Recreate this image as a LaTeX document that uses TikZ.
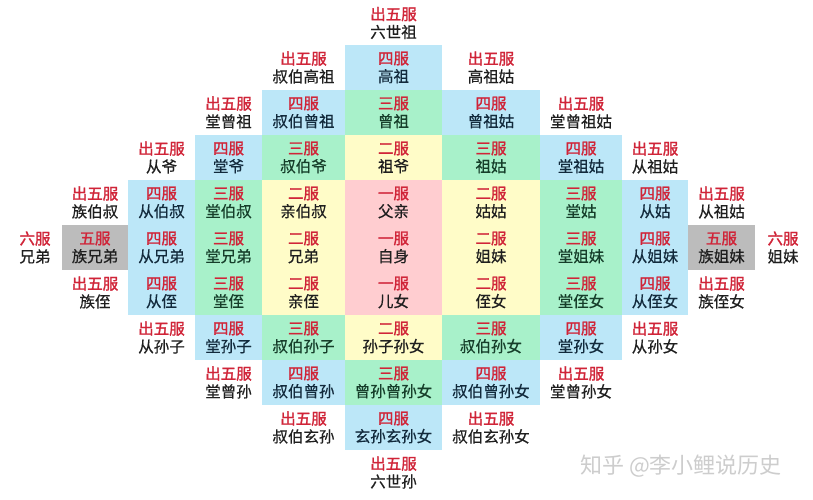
\documentclass[tikz,border=0pt]{standalone}
\usepackage{fontspec}
\newfontfamily\cjk[FakeBold=0.5]{Noto Sans CJK SC}
\newfontfamily\cjkb[FakeBold=1.6]{Noto Sans CJK SC}
\newfontfamily\cjkw{Noto Sans CJK SC}
\definecolor{cblue}{RGB}{188,231,248}
\definecolor{cgreen}{RGB}{168,241,202}
\definecolor{cyellow}{RGB}{255,252,200}
\definecolor{cpink}{RGB}{255,205,208}
\definecolor{cgray}{RGB}{188,188,188}
\definecolor{cred}{RGB}{208,36,56}
\definecolor{tgreen}{RGB}{22,62,42}
\definecolor{tblue}{RGB}{18,42,60}
\definecolor{wm}{RGB}{205,205,205}
\tikzset{
  cell/.style={minimum height=45pt, inner sep=0pt, align=center,
    font=\cjk\fontsize{15.5}{18}\selectfont, text=black!88},
  wcell/.style={cell},
  bcell/.style={cell, fill=cblue, text=tblue},
  gcell/.style={cell, fill=cgreen, text=tgreen},
  ycell/.style={cell, fill=cyellow},
  pcell/.style={cell, fill=cpink},
  kcell/.style={cell, fill=cgray},
}
\newcommand\C[7]{\node[#5, minimum width=#4pt] (#1) at (#2,#3) {{\cjkb\color{cred}#6}\\#7};}
\begin{document}
\begin{tikzpicture}[x=1pt,y=-1pt]
\useasboundingbox[fill=white] (0,0) rectangle (813,500);
% row 0
\C{r0c0}{393.5}{23}{97}{wcell}{出五服}{六世祖}
% row 1
\C{r1cm1}{303.5}{67.5}{83}{wcell}{出五服}{叔伯高祖}
\C{r1c0}{393.5}{67.5}{97}{bcell}{四服}{高祖}
\C{r1c1}{491}{67.5}{98}{wcell}{出五服}{高祖姑}
% row 2
\C{r2cm2}{228.5}{112.5}{67}{wcell}{出五服}{堂曾祖}
\C{r2cm1}{303.5}{112.5}{83}{bcell}{四服}{叔伯曾祖}
\C{r2c0}{393.5}{112.5}{97}{gcell}{三服}{曾祖}
\C{r2c1}{491}{112.5}{98}{bcell}{四服}{曾祖姑}
\C{r2c2}{581}{112.5}{82}{wcell}{出五服}{堂曾祖姑}
% row 3
\C{r3cm3}{161.5}{157.5}{67}{wcell}{出五服}{从爷}
\C{r3cm2}{228.5}{157.5}{67}{bcell}{四服}{堂爷}
\C{r3cm1}{303.5}{157.5}{83}{gcell}{三服}{叔伯爷}
\C{r3c0}{393.5}{157.5}{97}{ycell}{二服}{祖爷}
\C{r3c1}{491}{157.5}{98}{gcell}{三服}{祖姑}
\C{r3c2}{581}{157.5}{82}{bcell}{四服}{堂祖姑}
\C{r3c3}{655}{157.5}{66}{wcell}{出五服}{从祖姑}
% row 4
\C{r4cm4}{95}{202.5}{66}{wcell}{出五服}{族伯叔}
\C{r4cm3}{161.5}{202.5}{67}{bcell}{四服}{从伯叔}
\C{r4cm2}{228.5}{202.5}{67}{gcell}{三服}{堂伯叔}
\C{r4cm1}{303.5}{202.5}{83}{ycell}{二服}{亲伯叔}
\C{r4c0}{393.5}{202.5}{97}{pcell}{一服}{父亲}
\C{r4c1}{491}{202.5}{98}{ycell}{二服}{姑姑}
\C{r4c2}{581}{202.5}{82}{gcell}{三服}{堂姑}
\C{r4c3}{655}{202.5}{66}{bcell}{四服}{从姑}
\C{r4c4}{721.5}{202.5}{67}{wcell}{出五服}{从祖姑}
% row 5
\C{r5cm5}{35}{247.5}{50}{wcell}{六服}{兄弟}
\C{r5cm4}{95}{247.5}{66}{kcell}{五服}{族兄弟}
\C{r5cm3}{161.5}{247.5}{67}{bcell}{四服}{从兄弟}
\C{r5cm2}{228.5}{247.5}{67}{gcell}{三服}{堂兄弟}
\C{r5cm1}{303.5}{247.5}{83}{ycell}{二服}{兄弟}
\C{r5c0}{393.5}{247.5}{97}{pcell}{一服}{自身}
\C{r5c1}{491}{247.5}{98}{ycell}{二服}{姐妹}
\C{r5c2}{581}{247.5}{82}{gcell}{三服}{堂姐妹}
\C{r5c3}{655}{247.5}{66}{bcell}{四服}{从姐妹}
\C{r5c4}{721.5}{247.5}{67}{kcell}{五服}{族姐妹}
\C{r5c5}{783}{247.5}{50}{wcell}{六服}{姐妹}
% row 6
\C{r6cm4}{95}{292.5}{66}{wcell}{出五服}{族侄}
\C{r6cm3}{161.5}{292.5}{67}{bcell}{四服}{从侄}
\C{r6cm2}{228.5}{292.5}{67}{gcell}{三服}{堂侄}
\C{r6cm1}{303.5}{292.5}{83}{ycell}{二服}{亲侄}
\C{r6c0}{393.5}{292.5}{97}{pcell}{一服}{儿女}
\C{r6c1}{491}{292.5}{98}{ycell}{二服}{侄女}
\C{r6c2}{581}{292.5}{82}{gcell}{三服}{堂侄女}
\C{r6c3}{655}{292.5}{66}{bcell}{四服}{从侄女}
\C{r6c4}{721.5}{292.5}{67}{wcell}{出五服}{族侄女}
% row 7
\C{r7cm3}{161.5}{337.5}{67}{wcell}{出五服}{从孙子}
\C{r7cm2}{228.5}{337.5}{67}{bcell}{四服}{堂孙子}
\C{r7cm1}{303.5}{337.5}{83}{gcell}{三服}{叔伯孙子}
\C{r7c0}{393.5}{337.5}{97}{ycell}{二服}{孙子孙女}
\C{r7c1}{491}{337.5}{98}{gcell}{三服}{叔伯孙女}
\C{r7c2}{581}{337.5}{82}{bcell}{四服}{堂孙女}
\C{r7c3}{655}{337.5}{66}{wcell}{出五服}{从孙女}
% row 8
\C{r8cm2}{228.5}{382.5}{67}{wcell}{出五服}{堂曾孙}
\C{r8cm1}{303.5}{382.5}{83}{bcell}{四服}{叔伯曾孙}
\C{r8c0}{393.5}{382.5}{97}{gcell}{三服}{曾孙曾孙女}
\C{r8c1}{491}{382.5}{98}{bcell}{四服}{叔伯曾孙女}
\C{r8c2}{581}{382.5}{82}{wcell}{出五服}{堂曾孙女}
% row 9
\C{r9cm1}{303.5}{427.5}{83}{wcell}{出五服}{叔伯玄孙}
\C{r9c0}{393.5}{427.5}{97}{bcell}{四服}{玄孙玄孙女}
\C{r9c1}{491}{427.5}{98}{wcell}{出五服}{叔伯玄孙女}
% row 10
\C{r10c0}{393.5}{472.5}{97}{wcell}{出五服}{六世孙}
% watermark
\node[inner sep=0pt, text=wm, font=\cjkw\fontsize{22}{24}\selectfont] (wmark) at (681,466) {知乎 @李小鲤说历史};
\end{tikzpicture}
\end{document}
